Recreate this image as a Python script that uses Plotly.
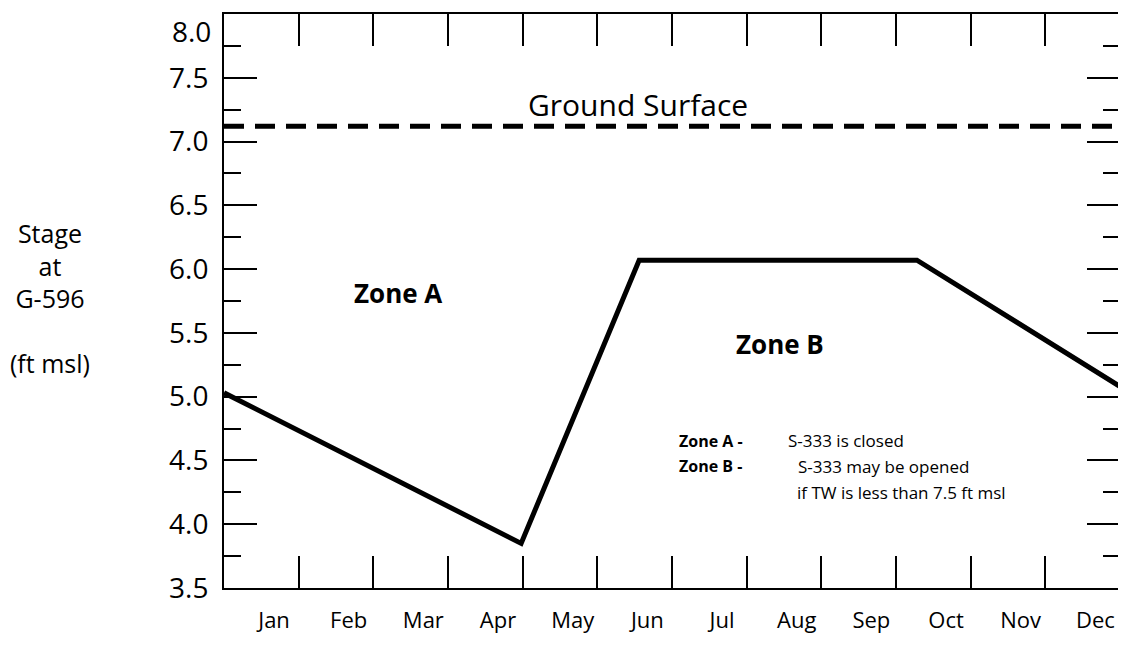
import plotly.graph_objects as go

# ---- data ----
months = ["Jan", "Feb", "Mar", "Apr", "May", "Jun", "Jul", "Aug", "Sep", "Oct", "Nov", "Dec"]
# x measured in months from the start of January (0) to the end of December (12)
stage_x = [0.0, 3.98, 5.56, 9.28, 12.0]
stage_y = [5.03, 3.85, 6.07, 6.07, 5.08]
ground_surface = 7.12
y_ticks = [3.5, 4.0, 4.5, 5.0, 5.5, 6.0, 6.5, 7.0, 7.5, 8.0]
y_tick_text = ["3.5", "4.0", "4.5", "5.0", "5.5", "6.0", "6.5", "7.0", "7.5", ""]
top_tick_label = "8.0"

FONT = "Open Sans"

fig = go.Figure()

fig.add_trace(go.Scatter(
    x=[0, 12], y=[ground_surface, ground_surface], mode="lines",
    line=dict(color="black", width=5, dash="20px,11px"),
    showlegend=False, hoverinfo="skip"))

fig.add_trace(go.Scatter(
    x=stage_x, y=stage_y, mode="lines",
    line=dict(color="black", width=5),
    showlegend=False))

# invisible trace on second x axis so the month-label axis is drawn
fig.add_trace(go.Scatter(x=[0, 12], y=[3.5, 3.5], xaxis="x2", mode="lines",
                         line=dict(width=0), showlegend=False, hoverinfo="skip"))

fig.update_layout(
    width=1118, height=630,
    margin=dict(l=216, r=4, t=5, b=43),
    paper_bgcolor="white", plot_bgcolor="white",
    font=dict(family=FONT, color="black"),
    xaxis=dict(range=[0, 12], tickmode="array", tickvals=list(range(1, 12)),
               showticklabels=False, ticks="inside", ticklen=32, tickwidth=2,
               tickcolor="black", showline=True, linewidth=2, linecolor="black",
               mirror="ticks", showgrid=False, zeroline=False, fixedrange=True),
    xaxis2=dict(range=[0, 12], overlaying="x", anchor="y", side="bottom",
                tickmode="array", tickvals=[i + 0.67 for i in range(12)],
                ticktext=months, ticks="", showline=False, showgrid=False,
                zeroline=False, tickfont=dict(size=22, family=FONT),
                ticklabelstandoff=17, ticklabeloverflow="allow"),
    yaxis=dict(range=[3.5, 8.0], tickmode="array", tickvals=y_ticks,
               ticktext=y_tick_text, ticks="inside", ticklen=33, tickwidth=2,
               tickcolor="black", showline=True, linewidth=2, linecolor="black",
               mirror="ticks", showgrid=False, zeroline=False,
               tickfont=dict(size=28, family=FONT), ticklabelstandoff=8,
               ticklabeloverflow="allow",
               minor=dict(ticks="inside", ticklen=17, tickwidth=2, tickcolor="black",
                          dtick=0.25, tick0=3.5, showgrid=False)),
)

ann = []
ann.append(dict(xref="paper", yref="y", x=0, y=8.0, xanchor="right", yanchor="top",
                xshift=-11, yshift=4, showarrow=False, text=top_tick_label,
                font=dict(size=28, family=FONT)))
ann.append(dict(xref="paper", yref="paper", x=-0.1938, y=0.505, xanchor="center",
                yanchor="middle", showarrow=False, align="center",
                text="Stage<br>at<br>G-596<br><br>(ft msl)",
                font=dict(size=25, family=FONT)))
ann.append(dict(x=5.55, y=ground_surface, xref="x", yref="y", showarrow=False,
                yanchor="bottom", yshift=-1,
                text="Ground Surface", font=dict(size=30, family=FONT)))
ann.append(dict(x=2.33, y=5.81, xref="x", yref="y", showarrow=False,
                text="<b>Zone A</b>", font=dict(size=26, family=FONT)))
ann.append(dict(x=7.44, y=5.41, xref="x", yref="y", showarrow=False,
                text="<b>Zone B</b>", font=dict(size=26, family=FONT)))
ann.append(dict(x=6.07, y=4.655, xref="x", yref="y", showarrow=False, xanchor="left",
                text="<b>Zone A -</b>", font=dict(size=16, family=FONT)))
ann.append(dict(x=7.53, y=4.655, xref="x", yref="y", showarrow=False, xanchor="left",
                text="S-333 is closed", font=dict(size=17, family=FONT)))
ann.append(dict(x=6.07, y=4.455, xref="x", yref="y", showarrow=False, xanchor="left",
                text="<b>Zone B -</b>", font=dict(size=16, family=FONT)))
ann.append(dict(x=7.66, y=4.455, xref="x", yref="y", showarrow=False, xanchor="left",
                text="S-333 may be opened", font=dict(size=17, family=FONT)))
ann.append(dict(x=7.65, y=4.245, xref="x", yref="y", showarrow=False, xanchor="left",
                text="if TW is less than 7.5 ft msl", font=dict(size=17, family=FONT)))
fig.update_layout(annotations=ann)

fig.write_html("out.html")
